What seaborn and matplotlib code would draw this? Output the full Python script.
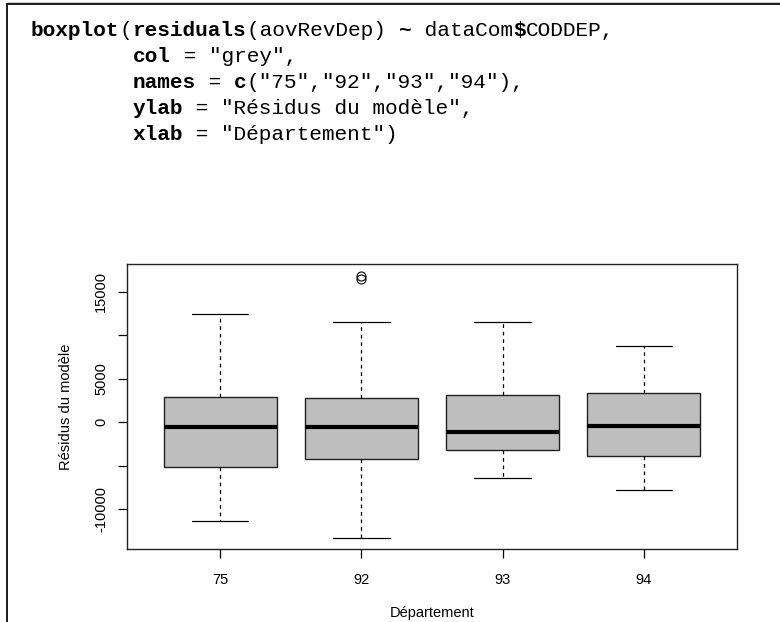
import matplotlib
matplotlib.use("Agg")
import matplotlib.pyplot as plt
from matplotlib.lines import Line2D
import seaborn as sns

# Residual summaries per department (five-number summary + outliers)
departements = ["75", "92", "93", "94"]
whisker_low = [-11330, -13350, -6370, -7780]
q1_values = [-5110, -4270, -3200, -3930]
medians = [-490, -490, -1060, -420]
q3_values = [2900, 2750, 3090, 3360]
whisker_high = [12500, 11520, 11480, 8810]
outliers = [[], [16850, 16450], [], []]

y_ticks = [-10000, -5000, 0, 5000, 10000, 15000]
y_tick_labels = ["-10000", "", "0", "5000", "", "15000"]

# R snippet shown above the chart: (text, bold) segments per line
code_lines = [
    [("boxplot", True), ("(", False), ("residuals", True), ("(aovRevDep) ", False),
     ("~", True), (" dataCom", False), ("$", True), ("CODDEP,", False)],
    [("        ", False), ("col", True), (' = "grey",', False)],
    [("        ", False), ("names", True), (" = ", False), ("c", True),
     ('("75","92","93","94"),', False)],
    [("        ", False), ("ylab", True), (' = "Résidus du modèle",', False)],
    [("        ", False), ("xlab", True), (' = "Département")', False)],
]

sns.set_theme(style="ticks")
plt.rcParams["font.family"] = ["Liberation Sans", "DejaVu Sans"]

W, H = 780, 622
fig = plt.figure(figsize=(W / 100, H / 100), dpi=100)
fig.patch.set_facecolor("white")

# Outer frame (left and top edges)
fig.add_artist(Line2D([7 / W, 1], [1 - 2 / H, 1 - 2 / H], transform=fig.transFigure,
                      color="#c8c8c8", lw=0.8))
fig.add_artist(Line2D([7 / W, 1], [1 - 4 / H, 1 - 4 / H], transform=fig.transFigure,
                      color="#1a1a1a", lw=1.4))
fig.add_artist(Line2D([7 / W, 7 / W], [0, 1 - 4 / H], transform=fig.transFigure,
                      color="#1a1a1a", lw=1.4))

# Code block in a monospace face
code_size = 15.2
char_w = 12.7
x0, base0, line_h = 31, 36, 26
for i, segs in enumerate(code_lines):
    col = 0
    for text, bold in segs:
        fig.text((x0 + col * char_w) / W, 1 - (base0 + i * line_h) / H, text,
                 family="Liberation Mono", fontsize=code_size,
                 fontweight="bold" if bold else "normal",
                 ha="left", va="baseline", color="black")
        col += len(text)

ax = fig.add_axes([127 / W, 1 - 549 / H, 610 / W, 285 / H])
ax.set_facecolor("white")

stats = [
    dict(label=d, whislo=lo, q1=a, med=m, q3=b, whishi=hi, fliers=f)
    for d, lo, a, m, b, hi, f in zip(departements, whisker_low, q1_values, medians,
                                     q3_values, whisker_high, outliers)
]
positions = list(range(1, len(departements) + 1))
ax.bxp(stats, positions=positions, widths=0.8, capwidths=0.4, patch_artist=True,
       showfliers=True,
       boxprops=dict(facecolor="#BEBEBE", edgecolor="#222222", linewidth=1.0),
       medianprops=dict(color="black", linewidth=3.0, solid_capstyle="butt"),
       whiskerprops=dict(color="black", linestyle=(0, (3, 3)), linewidth=0.9),
       capprops=dict(color="black", linewidth=0.9),
       flierprops=dict(marker="o", markerfacecolor="none", markeredgecolor="black",
                       markersize=6.5, markeredgewidth=0.8))

ax.set_xlim(0.34, 4.66)
ax.set_ylim(-14560, 18190)
ax.set_xticks(positions)
ax.set_xticklabels(departements)
ax.set_yticks(y_ticks)
ax.set_yticklabels(y_tick_labels, rotation=90, va="center")

for s in ax.spines.values():
    s.set_visible(True)
    s.set_color("#222222")
    s.set_linewidth(1.0)
ax.grid(False)
ax.tick_params(axis="both", direction="out", length=6.5, width=0.9, color="black",
               labelsize=10.5, labelcolor="black")
ax.tick_params(axis="x", pad=11)
ax.tick_params(axis="y", pad=7)

ax.set_xlabel("Département", fontsize=10.5, color="black")
ax.xaxis.set_label_coords(0.5, (549 - 613) / 285)
ax.xaxis.label.set_va("center")
ax.set_ylabel("Résidus du modèle", fontsize=10.5, color="black")
ax.yaxis.set_label_coords(-(127 - 66) / 610, 0.5)
ax.yaxis.label.set_va("center")
ax.yaxis.label.set_ha("center")

fig.savefig("out.png", dpi=100, facecolor="white")
